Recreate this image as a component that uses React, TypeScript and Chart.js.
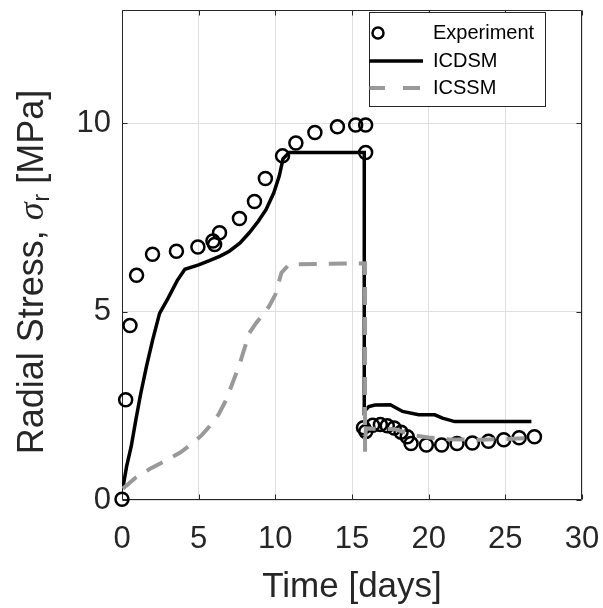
import { useEffect, useRef } from 'react';
import { Chart, registerables } from 'chart.js';
Chart.register(...registerables);

// ---------- data ----------
const expTime = [0, 0.24, 0.52, 0.95, 1.99, 3.55, 4.95, 5.93, 6.04, 6.36, 7.66, 8.64, 9.35, 10.47, 11.34, 12.58, 14.05, 15.24, 15.89, 15.89,
  15.75, 15.9, 16.35, 16.85, 17.3, 17.75, 18.2, 18.6, 18.85, 19.85, 20.85, 21.85, 22.85, 23.9, 24.9, 25.9, 26.9];
const expStress = [0.02, 2.66, 4.63, 5.96, 6.52, 6.6, 6.71, 6.87, 6.78, 7.09, 7.47, 7.92, 8.53, 9.13, 9.47, 9.75, 9.9, 9.95, 9.95, 9.22,
  1.92, 1.82, 1.98, 2.0, 1.97, 1.91, 1.8, 1.68, 1.5, 1.46, 1.46, 1.5, 1.51, 1.56, 1.6, 1.65, 1.68];

const icdsmTime = [0.05, 0.3, 0.6, 0.9, 1.2, 1.6, 2.0, 2.45, 3.0, 3.6, 4.1, 5.0, 5.7, 6.4, 7.0, 7.7, 8.3, 8.9, 9.4, 9.9, 10.26, 10.5, 10.9,
  15.8, 15.8, 16.1, 16.5, 17.5, 18.3, 19.35, 20.4, 20.9, 21.7, 26.7];
const icdsmStress = [0.3, 0.89, 1.42, 2.12, 2.78, 3.55, 4.25, 4.95, 5.35, 5.82, 6.12, 6.24, 6.35, 6.47, 6.6, 6.82, 7.09, 7.4, 7.71, 8.15, 8.6, 9.05, 9.22,
  9.22, 2.35, 2.48, 2.52, 2.53, 2.35, 2.26, 2.26, 2.17, 2.08, 2.08];

const icssmTime = [0.05, 0.85, 1.8, 2.4, 3.0, 3.8, 4.6, 5.2, 5.7, 6.3, 6.8, 7.3, 7.7, 8.3, 8.75, 9.2, 9.6, 10.0, 10.2, 10.4, 10.9,
  15.85, 15.85, 15.9, 17.8, 19.0, 20.0, 21.3, 23.5, 26.5];
const icssmStress = [0.3, 0.58, 0.82, 0.95, 1.08, 1.26, 1.5, 1.72, 1.95, 2.27, 2.66, 3.2, 3.64, 4.43, 4.7, 4.92, 5.14, 5.45, 5.75, 6.03, 6.25,
  6.28, 1.28, 1.9, 1.88, 1.72, 1.66, 1.61, 1.6, 1.64];

const xTicks = [0, 5, 10, 15, 20, 25, 30];
const yTicks = [0, 5, 10];
const legendLabels = ['Experiment', 'ICDSM', 'ICSSM'];
const xTitle = 'Time [days]';
const yTitleMain = 'Radial Stress, ';
const yTitleSymbol = 'σ';
const yTitleSub = 'r';
const yTitleUnit = ' [MPa]';

const AXIS = '#262626';
const GRAY = '#999999';
const FONT = '"Liberation Sans", Arial, sans-serif';

const toPts = (xs: number[], ys: number[]) => xs.map((x, i) => ({ x, y: ys[i] }));

const framePlugin = {
  id: 'frame',
  beforeDatasetsDraw(chart: any) {
    const { ctx, chartArea, scales } = chart;
    const { left, right, top, bottom } = chartArea;
    ctx.save();
    ctx.strokeStyle = AXIS;
    ctx.lineWidth = 1;
    ctx.beginPath();
    const L = Math.round(left) + 0.5, R = Math.round(right) - 0.5, T = Math.round(top) + 0.5, B = Math.round(bottom) - 0.5;
    ctx.rect(L, T, R - L, B - T);
    const tl = 5;
    xTicks.forEach((v) => {
      const p = Math.round(scales.x.getPixelForValue(v)) + 0.5;
      ctx.moveTo(p, B); ctx.lineTo(p, B - tl);
      ctx.moveTo(p, T); ctx.lineTo(p, T + tl);
    });
    yTicks.forEach((v) => {
      const p = Math.round(scales.y.getPixelForValue(v)) + 0.5;
      ctx.moveTo(L, p); ctx.lineTo(L + tl, p);
      ctx.moveTo(R, p); ctx.lineTo(R - tl, p);
    });
    ctx.stroke();
    ctx.restore();
  },
  afterDraw(chart: any) {
    const { ctx, chartArea } = chart;
    ctx.save();
    // x title
    ctx.fillStyle = AXIS;
    ctx.font = `35px ${FONT}`;
    ctx.textAlign = 'center';
    ctx.textBaseline = 'alphabetic';
    ctx.fillText(xTitle, (chartArea.left + chartArea.right) / 2, 597);

    // y title (rotated with subscript)
    const mainFont = `36px ${FONT}`;
    const symFont = `italic 36px "Liberation Serif", "Times New Roman", serif`;
    const subFont = `23px ${FONT}`;
    ctx.font = mainFont;
    const w1 = ctx.measureText(yTitleMain).width;
    const w4 = ctx.measureText(yTitleUnit).width;
    ctx.font = symFont;
    const w2 = ctx.measureText(yTitleSymbol).width;
    ctx.font = subFont;
    const w3 = ctx.measureText(yTitleSub).width;
    const total = w1 + w2 + 1 + w3 + w4;
    ctx.translate(43, 272);
    ctx.rotate(-Math.PI / 2);
    ctx.textAlign = 'left';
    let cx = -total / 2;
    ctx.font = mainFont; ctx.fillText(yTitleMain, cx, 0); cx += w1;
    ctx.font = symFont; ctx.fillText(yTitleSymbol, cx, 0); cx += w2 + 1;
    ctx.font = subFont; ctx.fillText(yTitleSub, cx, 6); cx += w3;
    ctx.font = mainFont; ctx.fillText(yTitleUnit, cx, 0);
    ctx.restore();

    // legend
    ctx.save();
    const bx = 369.5, by = 12.5, bw = 176, bh = 94;
    ctx.fillStyle = '#ffffff';
    ctx.fillRect(bx, by, bw, bh);
    ctx.strokeStyle = AXIS;
    ctx.lineWidth = 1;
    ctx.strokeRect(bx, by, bw, bh);
    const rows = [33, 61, 88];
    ctx.beginPath();
    ctx.rect(bx, by, bw, bh);
    ctx.clip();
    ctx.strokeStyle = '#000';
    ctx.lineWidth = 2.5;
    ctx.beginPath();
    ctx.arc(378, rows[0], 5.5, 0, Math.PI * 2);
    ctx.stroke();
    ctx.lineWidth = 3.5;
    ctx.beginPath();
    ctx.moveTo(366, rows[1]); ctx.lineTo(423, rows[1]);
    ctx.stroke();
    ctx.strokeStyle = GRAY;
    ctx.lineWidth = 4;
    ctx.setLineDash([17, 18]);
    ctx.beginPath();
    ctx.moveTo(368, rows[2]); ctx.lineTo(421, rows[2]);
    ctx.stroke();
    ctx.setLineDash([]);
    ctx.fillStyle = '#000';
    ctx.font = `20px ${FONT}`;
    ctx.textAlign = 'left';
    ctx.textBaseline = 'middle';
    legendLabels.forEach((t, i) => ctx.fillText(t, 433, rows[i]));
    ctx.restore();
  },
};

export default function App() {
  const ref = useRef<HTMLCanvasElement>(null);
  useEffect(() => {
    document.body.style.margin = '0';
    const canvas = ref.current!;
    const chart = new Chart(canvas, {
      type: 'line',
      data: {
        datasets: [
          {
            label: legendLabels[0],
            data: toPts(expTime, expStress),
            showLine: false,
            pointStyle: 'circle',
            pointRadius: 6.5,
            pointBorderWidth: 2.5,
            pointBorderColor: '#000',
            pointBackgroundColor: 'rgba(0,0,0,0)',
            borderColor: '#000',
            order: 3,
            clip: 12,
          } as any,
          {
            label: legendLabels[1],
            data: toPts(icdsmTime, icdsmStress),
            borderColor: '#000',
            borderWidth: 3.5,
            pointRadius: 0,
            tension: 0,
            fill: false,
            order: 2,
          },
          {
            label: legendLabels[2],
            data: toPts(icssmTime, icssmStress),
            borderColor: GRAY,
            borderWidth: 4,
            borderDash: [18, 12],
            borderCapStyle: 'butt',
            pointRadius: 0,
            tension: 0,
            fill: false,
            order: 1,
          },
        ],
      },
      options: {
        responsive: false,
        animation: false,
        devicePixelRatio: 1,
        layout: { padding: { left: 0, right: 21, top: 10, bottom: 0 } },
        plugins: { legend: { display: false }, tooltip: { enabled: false } },
        scales: {
          x: {
            type: 'linear',
            min: 0,
            max: 30,
            afterBuildTicks: (s: any) => { s.ticks = xTicks.map((v) => ({ value: v })); },
            afterFit: (s: any) => { s.height = 108; s.paddingLeft = 0; s.paddingRight = 0; },
            grid: { color: '#dfdfdf', lineWidth: 1, drawTicks: false },
            border: { display: false },
            ticks: { color: AXIS, font: { size: 31, family: FONT }, padding: 21, maxRotation: 0, autoSkip: false },
          },
          y: {
            type: 'linear',
            min: 0,
            max: 13,
            afterBuildTicks: (s: any) => { s.ticks = yTicks.map((v) => ({ value: v })); },
            afterFit: (s: any) => { s.width = 122; s.paddingTop = 0; s.paddingBottom = 0; },
            grid: { color: '#dfdfdf', lineWidth: 1, drawTicks: false },
            border: { display: false },
            ticks: { color: AXIS, font: { size: 31, family: FONT }, padding: 11, autoSkip: false },
          },
        },
      },
      plugins: [framePlugin],
    });
    return () => chart.destroy();
  }, []);
  return (
    <div style={{ width: 603, height: 608 }}>
      <canvas ref={ref} width={603} height={608} style={{ display: 'block', width: 603, height: 608 }} />
    </div>
  );
}
